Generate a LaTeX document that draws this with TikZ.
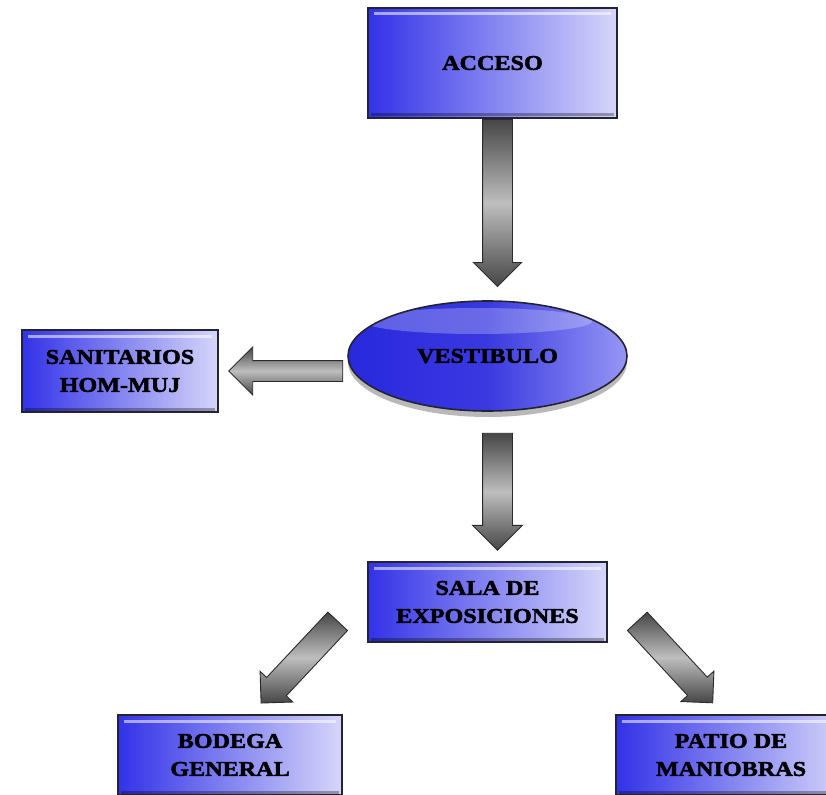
\documentclass[tikz,border=0pt]{standalone}
\usepackage{fontspec}
\newfontfamily\lblfont[FakeStretch=1.15,FakeBold=2.2]{Liberation Serif}
\usetikzlibrary{shapes.geometric,shapes.arrows,shadows}

\definecolor{boxL}{RGB}{50,50,232}
\definecolor{boxR}{RGB}{214,214,250}
\definecolor{edge}{RGB}{35,35,50}
\definecolor{arrDark}{RGB}{70,70,70}
\definecolor{arrLight}{RGB}{190,190,190}
\definecolor{ellL}{RGB}{40,40,222}
\definecolor{ellR}{RGB}{150,150,245}

\tikzset{
  lbl/.style={font=\lblfont\bfseries\fontsize{21}{28}\selectfont, align=center, text=black},
  box/.style={rectangle, inner sep=0pt, left color=boxL, right color=boxR,
    draw=edge, line width=2pt, lbl,
    path picture={
      \draw[white, opacity=0.55, line width=3pt]
        ([shift={(6pt,-6pt)}]path picture bounding box.north west) --
        ([shift={(-6pt,-6pt)}]path picture bounding box.north east);
      \draw[black, opacity=0.3, line width=3pt]
        ([shift={(3pt,3pt)}]path picture bounding box.south west) --
        ([shift={(-3pt,3pt)}]path picture bounding box.south east);
    }},
  oval/.style={ellipse, inner sep=0pt, left color=ellL, right color=ellR, middle color=ellL!92!white,
    draw=edge, line width=1.6pt, lbl,
    drop shadow={shadow xshift=0pt, shadow yshift=-6pt, fill=gray!55, opacity=1},
    path picture={
      \fill[white, opacity=0.25]
        ([xshift=-10pt,yshift=-20pt]path picture bounding box.north) ellipse (115pt and 13pt);
    }},
  fat/.style={single arrow, draw=arrDark!60!black, line width=0.9pt, inner sep=0pt,
    allow upside down=true, sloped, anchor=tail, pos=0,
    top color=arrDark, bottom color=arrDark, middle color=arrLight}
}

\begin{document}
\begin{tikzpicture}[x=1pt,y=1pt]
\useasboundingbox (0,-794) rectangle (826,0);

\node[box, minimum width=249pt, minimum height=110pt] (acc) at (492.5,-63) {\raisebox{-3pt}{ACCESO}};
\node[oval, minimum width=279pt, minimum height=110pt] (ves) at (487.5,-356) {\raisebox{-4pt}{VESTIBULO}};
\node[box, minimum width=196pt, minimum height=82pt] (san) at (120,-371) {SANITARIOS\\HOM-MUJ};
\node[box, minimum width=239pt, minimum height=80pt] (sala) at (487.5,-602) {SALA DE\\EXPOSICIONES};
\node[box, minimum width=224pt, minimum height=80pt] (bod) at (230,-755) {BODEGA\\GENERAL};
\node[box, minimum width=230pt, minimum height=80pt] (pat) at (731,-755) {PATIO DE\\MANIOBRAS};

\path ([xshift=5pt]acc.south) -- ([xshift=10pt,yshift=17pt]ves.north)
  node[fat, minimum height=167pt, single arrow head extend=9pt] {\rule{0pt}{29pt}};
\path ([xshift=-4pt,yshift=-15pt]ves.west) -- ([xshift=12pt]san.east)
  node[fat, minimum height=114pt, single arrow head extend=13.5pt] {\rule{0pt}{20pt}};
\path ([xshift=10pt,yshift=-21pt]ves.south) -- ([xshift=10pt,yshift=12pt]sala.north)
  node[fat, minimum height=117pt, single arrow head extend=10pt] {\rule{0pt}{29pt}};
\path ([xshift=-29pt,yshift=22pt]sala.south west) -- ([xshift=33pt,yshift=13pt]bod.north)
  node[fat, minimum height=112pt, single arrow head extend=9pt] {\rule{0pt}{26pt}};
\path ([xshift=29pt,yshift=22pt]sala.south east) -- ([xshift=-20pt,yshift=13pt]pat.north)
  node[fat, minimum height=111pt, single arrow head extend=9pt] {\rule{0pt}{26pt}};
\end{tikzpicture}
\end{document}
